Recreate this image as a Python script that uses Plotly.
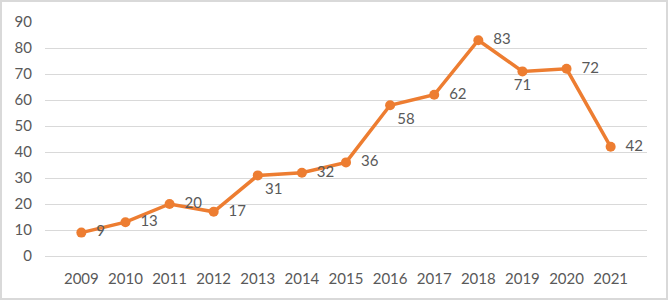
import plotly.graph_objects as go

years = ["2009", "2010", "2011", "2012", "2013", "2014", "2015",
         "2016", "2017", "2018", "2019", "2020", "2021"]
values = [9, 13, 20, 17, 31, 32, 36, 58, 62, 83, 71, 72, 42]
label_pos = ["middle right"] * len(years)
label_pos[years.index("2019")] = "bottom center"
label_pos[years.index("2013")] = "bottom right"
label_pos[years.index("2016")] = "bottom right"

fig = go.Figure()
fig.add_trace(go.Scatter(
    x=years, y=values, mode="lines+markers+text",
    line=dict(color="#ED7D31", width=3.5),
    marker=dict(color="#ED7D31", size=10),
    text=[f"  {v}" if p == "middle right" else str(v) for v, p in zip(values, label_pos)],
    textposition=label_pos,
    textfont=dict(family="Lato, Open Sans, sans-serif", size=15, color="#595959"),
    cliponaxis=False,
    showlegend=False,
))

L, R, T, B = 45, 22, 22, 45
W, H = 669, 301
pw, ph = W - L - R, H - T - B

fig.update_layout(
    width=W, height=H,
    margin=dict(l=L, r=R, t=T, b=B),
    paper_bgcolor="white", plot_bgcolor="white",
    font=dict(family="Lato, Open Sans, sans-serif", size=15, color="#595959"),
    xaxis=dict(type="category", showgrid=False, showline=False, zeroline=False,
               ticks="", ticklabelstandoff=12),
    yaxis=dict(range=[0, 90], dtick=10, showgrid=True, gridcolor="#D9D9D9",
               gridwidth=1, zeroline=True, zerolinecolor="#D9D9D9", zerolinewidth=1,
               showline=False, ticks="", ticklabelstandoff=12),
    shapes=[dict(type="rect", xref="paper", yref="paper",
                 x0=(1 - L) / pw, x1=(W - 2 - L) / pw,
                 y0=(H - B - (H - 2)) / ph, y1=(H - B - 1) / ph,
                 line=dict(color="#D9D9D9", width=2), fillcolor="rgba(0,0,0,0)")],
)

fig.write_html("out.html")
